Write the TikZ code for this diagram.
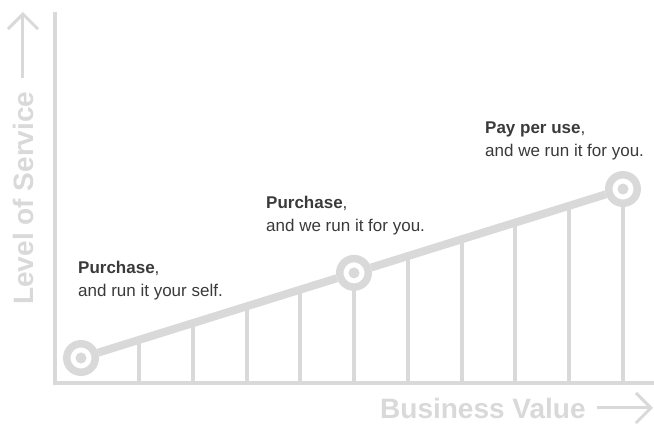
\documentclass[tikz,border=0pt]{standalone}
\usepackage{fontspec}
\setmainfont{Liberation Sans}
\usetikzlibrary{arrows.meta,calc,positioning}
\definecolor{railgray}{HTML}{D9D9D9}
\definecolor{inkgray}{HTML}{3A3A3A}
\tikzset{
  axisline/.style={railgray, line width=4pt},
  axisarrow/.style={railgray, line width=3pt, -{Straight Barb[length=15pt,width=30pt]}},
  axislabel/.style={railgray, inner sep=0pt, font=\fontsize{28}{30}\selectfont\bfseries},
  trend/.style={railgray, line width=8pt},
  tickline/.style={railgray, line width=4pt},
  milestone/.style={circle, draw=railgray, fill=white, line width=7.5pt, minimum size=28.5pt, inner sep=0pt},
  offer/.style={inkgray, inner sep=0pt, align=left, anchor=base west, font=\fontsize{17}{23}\selectfont},
}

\begin{document}
\begin{tikzpicture}[x=1pt, y=-1pt]
    \useasboundingbox (0,0) rectangle (654,425);
    \coordinate (O) at (55,383);
    \pgfmathsetmacro{\slope}{169/542}  % drop of the trend line per unit of x
    % Syntax: axes first, then ticks, then the trend line on top
    \draw[axisline] (55,12) -- (O) -- (654,383);
    \foreach \k in {0,...,9} {
        \pgfmathsetmacro{\tx}{139+53.75*\k}
        \pgfmathsetmacro{\ty}{358-(\tx-81)*\slope}
        \draw[tickline] (\tx,\ty) -- (\tx,383);
    }
    \node[milestone] (own) at (81,358) {};
    \node[milestone] (managed) at (354,{358-273*\slope}) {};
    \node[milestone] (payg) at (623,189) {};
    \draw[trend] (own) -- (managed) -- (payg);
    \foreach \m in {own,managed,payg}
        \fill[railgray] (\m) circle[radius=5.5pt];
    % labels of the three offers (base = last line)
    \node[offer] (ownText) at (78,296) {\textbf{Purchase},\\and run it your self.};
    \node[offer] (managedText) at (266,232) {\textbf{Purchase},\\and we run it for you.};
    \node[offer] (paygText) at (485,157) {\textbf{Pay per use},\\and we run it for you.};
    % axis titles and their arrows
    \node[axislabel, rotate=90, anchor=base west] (service) at (33,305) {Level of Service};
    \node[axislabel, anchor=base west] (value) at (380,418) {Business Value};
    \coordinate (serviceTip) at (24,12);
    \coordinate (valueTip) at (653,408);
    \draw[axisarrow, shorten <=13pt] (service.east) -- (service.east |- serviceTip);
    \draw[axisarrow, shorten <=11pt] (value.east) -- (value.east -| valueTip);
\end{tikzpicture}
\end{document}
